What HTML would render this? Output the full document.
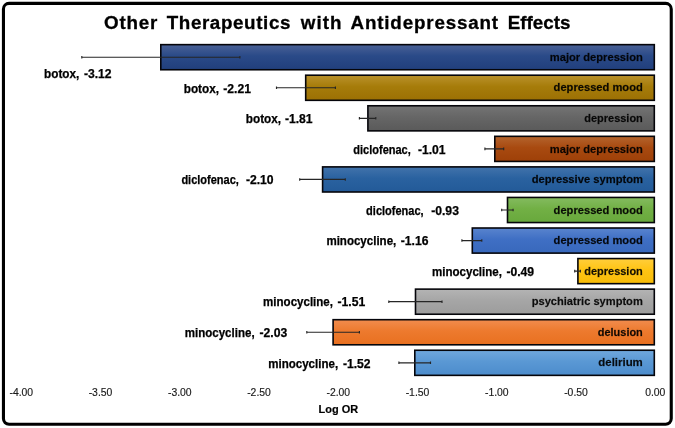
<!DOCTYPE html>
<html lang="en">
<head>
<meta charset="utf-8">
<title>Other Therapeutics with Antidepressant Effects</title>
<style>
html,body{margin:0;padding:0;background:#fff;}
body{width:675px;height:428px;overflow:hidden;}
svg{display:block;}
text{font-family:"Liberation Sans",sans-serif;}
.t{font-weight:bold;font-size:18.8px;fill:#000;stroke:#000;stroke-width:.3px;}
.dl{font-weight:bold;font-size:12.2px;fill:#000;stroke:#000;stroke-width:.25px;}
.cl{font-weight:bold;font-size:11.7px;fill:#000;fill-opacity:.92;stroke:#000;stroke-width:.3px;stroke-opacity:.55;}
.tk{font-size:10.4px;fill:#1a1a1a;stroke:#1a1a1a;stroke-width:.15px;text-anchor:middle;}
.ax{font-weight:bold;font-size:11.5px;fill:#000;stroke:#000;stroke-width:.2px;}
.eb{stroke:#262626;stroke-width:1.15;fill:none;}
</style>
</head>
<body>
<svg width="675" height="428" viewBox="0 0 675 428">
<defs>
<linearGradient id="g0" x1="0" y1="0" x2="0" y2="1"><stop offset="0" stop-color="#4a6196"/><stop offset=".45" stop-color="#2a4a88"/><stop offset="1" stop-color="#213f7c"/></linearGradient>
<linearGradient id="g1" x1="0" y1="0" x2="0" y2="1"><stop offset="0" stop-color="#ba922c"/><stop offset=".45" stop-color="#a67c0a"/><stop offset="1" stop-color="#9c7004"/></linearGradient>
<linearGradient id="g2" x1="0" y1="0" x2="0" y2="1"><stop offset="0" stop-color="#747474"/><stop offset=".45" stop-color="#666666"/><stop offset="1" stop-color="#5a5a5a"/></linearGradient>
<linearGradient id="g3" x1="0" y1="0" x2="0" y2="1"><stop offset="0" stop-color="#b4642e"/><stop offset=".45" stop-color="#a84a10"/><stop offset="1" stop-color="#9e4008"/></linearGradient>
<linearGradient id="g4" x1="0" y1="0" x2="0" y2="1"><stop offset="0" stop-color="#4273ab"/><stop offset=".45" stop-color="#2a62a0"/><stop offset="1" stop-color="#235a98"/></linearGradient>
<linearGradient id="g5" x1="0" y1="0" x2="0" y2="1"><stop offset="0" stop-color="#84bb60"/><stop offset=".45" stop-color="#72b045"/><stop offset="1" stop-color="#68a83c"/></linearGradient>
<linearGradient id="g6" x1="0" y1="0" x2="0" y2="1"><stop offset="0" stop-color="#5984ce"/><stop offset=".45" stop-color="#3f6fc4"/><stop offset="1" stop-color="#3868bc"/></linearGradient>
<linearGradient id="g7" x1="0" y1="0" x2="0" y2="1"><stop offset="0" stop-color="#ffce3c"/><stop offset=".45" stop-color="#ffc414"/><stop offset="1" stop-color="#f8bc08"/></linearGradient>
<linearGradient id="g8" x1="0" y1="0" x2="0" y2="1"><stop offset="0" stop-color="#b4b4b4"/><stop offset=".45" stop-color="#a6a6a6"/><stop offset="1" stop-color="#9c9c9c"/></linearGradient>
<linearGradient id="g9" x1="0" y1="0" x2="0" y2="1"><stop offset="0" stop-color="#f18c4e"/><stop offset=".45" stop-color="#ed7a2e"/><stop offset="1" stop-color="#e87020"/></linearGradient>
<linearGradient id="g10" x1="0" y1="0" x2="0" y2="1"><stop offset="0" stop-color="#70a7dc"/><stop offset=".45" stop-color="#5a98d4"/><stop offset="1" stop-color="#4c8ccc"/></linearGradient>
</defs>
<rect x="0" y="0" width="675" height="428" fill="#fff"/>
<rect x="3.45" y="3.4" width="667.8" height="420.8" rx="5.6" ry="5.6" fill="#fff" stroke="#000" stroke-width="3.1"/>
<text class="t" y="28.5"><tspan x="104.0" textLength="53.4" lengthAdjust="spacing">Other</tspan> <tspan x="166.7" textLength="123.7" lengthAdjust="spacing">Therapeutics</tspan> <tspan x="300.7" textLength="40.9" lengthAdjust="spacing">with</tspan> <tspan x="350.5" textLength="147.6" lengthAdjust="spacing">Antidepressant</tspan> <tspan x="507.7" textLength="62.8" lengthAdjust="spacing">Effects</tspan></text>
<rect x="160.80" y="44.65" width="493.50" height="25.10" fill="url(#g0)" stroke="#05050a" stroke-width="1.6"/>
<rect x="305.70" y="75.21" width="348.60" height="25.10" fill="url(#g1)" stroke="#05050a" stroke-width="1.6"/>
<rect x="367.90" y="105.77" width="286.40" height="25.10" fill="url(#g2)" stroke="#05050a" stroke-width="1.6"/>
<rect x="494.80" y="136.33" width="159.50" height="25.10" fill="url(#g3)" stroke="#05050a" stroke-width="1.6"/>
<rect x="322.60" y="166.89" width="331.70" height="25.10" fill="url(#g4)" stroke="#05050a" stroke-width="1.6"/>
<rect x="507.50" y="197.45" width="146.80" height="25.10" fill="url(#g5)" stroke="#05050a" stroke-width="1.6"/>
<rect x="472.30" y="228.01" width="182.00" height="25.10" fill="url(#g6)" stroke="#05050a" stroke-width="1.6"/>
<rect x="577.90" y="258.57" width="76.40" height="25.10" fill="url(#g7)" stroke="#05050a" stroke-width="1.6"/>
<rect x="415.50" y="289.13" width="238.80" height="25.10" fill="url(#g8)" stroke="#05050a" stroke-width="1.6"/>
<rect x="333.10" y="319.69" width="321.20" height="25.10" fill="url(#g9)" stroke="#05050a" stroke-width="1.6"/>
<rect x="414.80" y="350.25" width="239.50" height="25.10" fill="url(#g10)" stroke="#05050a" stroke-width="1.6"/>
<path class="eb" d="M81.3 57.20H240.4M81.8 55.90v2.6M239.9 55.90v2.6"/>
<path class="eb" d="M276.0 87.76H335.9M276.5 86.46v2.6M335.4 86.46v2.6"/>
<path class="eb" d="M358.9 118.32H376.3M359.4 117.02v2.6M375.8 117.02v2.6"/>
<path class="eb" d="M484.4 148.88H504.2M484.9 147.58v2.6M503.7 147.58v2.6"/>
<path class="eb" d="M299.2 179.44H345.8M299.7 178.14v2.6M345.3 178.14v2.6"/>
<path class="eb" d="M501.2 210.00H513.6M501.7 208.70v2.6M513.1 208.70v2.6"/>
<path class="eb" d="M461.4 240.56H482.3M461.9 239.26v2.6M481.8 239.26v2.6"/>
<path class="eb" d="M574.2 271.12H580.9M574.7 269.82v2.6M580.4 269.82v2.6"/>
<path class="eb" d="M388.3 301.68H442.5M388.8 300.38v2.6M442.0 300.38v2.6"/>
<path class="eb" d="M306.3 332.24H359.9M306.8 330.94v2.6M359.4 330.94v2.6"/>
<path class="eb" d="M398.4 362.80H431.0M398.9 361.50v2.6M430.5 361.50v2.6"/>
<text class="dl" y="78.2"><tspan x="44.0" textLength="35.3" lengthAdjust="spacingAndGlyphs">botox,</tspan> <tspan x="83.9" textLength="27.7" lengthAdjust="spacingAndGlyphs">-3.12</tspan></text>
<text class="cl" x="549.8" y="60.85" textLength="93.0" lengthAdjust="spacingAndGlyphs">major depression</text>
<text class="dl" y="92.5"><tspan x="183.7" textLength="35.3" lengthAdjust="spacingAndGlyphs">botox,</tspan> <tspan x="223.3" textLength="27.7" lengthAdjust="spacingAndGlyphs">-2.21</tspan></text>
<text class="cl" x="553.6" y="91.41" textLength="89.2" lengthAdjust="spacingAndGlyphs">depressed mood</text>
<text class="dl" y="123.0"><tspan x="245.8" textLength="35.3" lengthAdjust="spacingAndGlyphs">botox,</tspan> <tspan x="284.9" textLength="27.7" lengthAdjust="spacingAndGlyphs">-1.81</tspan></text>
<text class="cl" x="584.3" y="121.97" textLength="58.5" lengthAdjust="spacingAndGlyphs">depression</text>
<text class="dl" y="153.6"><tspan x="353.3" textLength="57.5" lengthAdjust="spacingAndGlyphs">diclofenac,</tspan> <tspan x="417.9" textLength="27.7" lengthAdjust="spacingAndGlyphs">-1.01</tspan></text>
<text class="cl" x="549.8" y="152.53" textLength="93.0" lengthAdjust="spacingAndGlyphs">major depression</text>
<text class="dl" y="184.1"><tspan x="181.4" textLength="57.5" lengthAdjust="spacingAndGlyphs">diclofenac,</tspan> <tspan x="245.9" textLength="27.7" lengthAdjust="spacingAndGlyphs">-2.10</tspan></text>
<text class="cl" x="531.7" y="183.09" textLength="111.3" lengthAdjust="spacingAndGlyphs">depressive symptom</text>
<text class="dl" y="214.7"><tspan x="366.1" textLength="57.5" lengthAdjust="spacingAndGlyphs">diclofenac,</tspan> <tspan x="431.2" textLength="27.7" lengthAdjust="spacingAndGlyphs">-0.93</tspan></text>
<text class="cl" x="553.6" y="213.65" textLength="89.2" lengthAdjust="spacingAndGlyphs">depressed mood</text>
<text class="dl" y="245.3"><tspan x="326.4" textLength="69.9" lengthAdjust="spacingAndGlyphs">minocycline,</tspan> <tspan x="400.8" textLength="27.7" lengthAdjust="spacingAndGlyphs">-1.16</tspan></text>
<text class="cl" x="553.6" y="244.21" textLength="89.2" lengthAdjust="spacingAndGlyphs">depressed mood</text>
<text class="dl" y="275.8"><tspan x="432.0" textLength="69.9" lengthAdjust="spacingAndGlyphs">minocycline,</tspan> <tspan x="506.4" textLength="27.7" lengthAdjust="spacingAndGlyphs">-0.49</tspan></text>
<text class="cl" x="584.3" y="274.77" textLength="58.5" lengthAdjust="spacingAndGlyphs">depression</text>
<text class="dl" y="306.4"><tspan x="263.1" textLength="69.9" lengthAdjust="spacingAndGlyphs">minocycline,</tspan> <tspan x="337.5" textLength="27.7" lengthAdjust="spacingAndGlyphs">-1.51</tspan></text>
<text class="cl" x="531.7" y="305.33" textLength="111.1" lengthAdjust="spacingAndGlyphs">psychiatric symptom</text>
<text class="dl" y="336.9"><tspan x="184.7" textLength="69.9" lengthAdjust="spacingAndGlyphs">minocycline,</tspan> <tspan x="259.5" textLength="27.7" lengthAdjust="spacingAndGlyphs">-2.03</tspan></text>
<text class="cl" x="597.8" y="335.89" textLength="45.0" lengthAdjust="spacingAndGlyphs">delusion</text>
<text class="dl" y="367.5"><tspan x="268.2" textLength="69.9" lengthAdjust="spacingAndGlyphs">minocycline,</tspan> <tspan x="342.9" textLength="27.7" lengthAdjust="spacingAndGlyphs">-1.52</tspan></text>
<text class="cl" x="598.3" y="366.45" textLength="44.5" lengthAdjust="spacingAndGlyphs">delirium</text>
<text class="tk" x="21.3" y="396.3">-4.00</text>
<text class="tk" x="100.5" y="396.3">-3.50</text>
<text class="tk" x="179.8" y="396.3">-3.00</text>
<text class="tk" x="259.0" y="396.3">-2.50</text>
<text class="tk" x="338.3" y="396.3">-2.00</text>
<text class="tk" x="417.5" y="396.3">-1.50</text>
<text class="tk" x="496.8" y="396.3">-1.00</text>
<text class="tk" x="576.0" y="396.3">-0.50</text>
<text class="tk" x="655.3" y="396.3">0.00</text>
<text class="ax" x="318.6" y="413.3" textLength="39.6" lengthAdjust="spacingAndGlyphs">Log OR</text>
</svg>
</body>
</html>
